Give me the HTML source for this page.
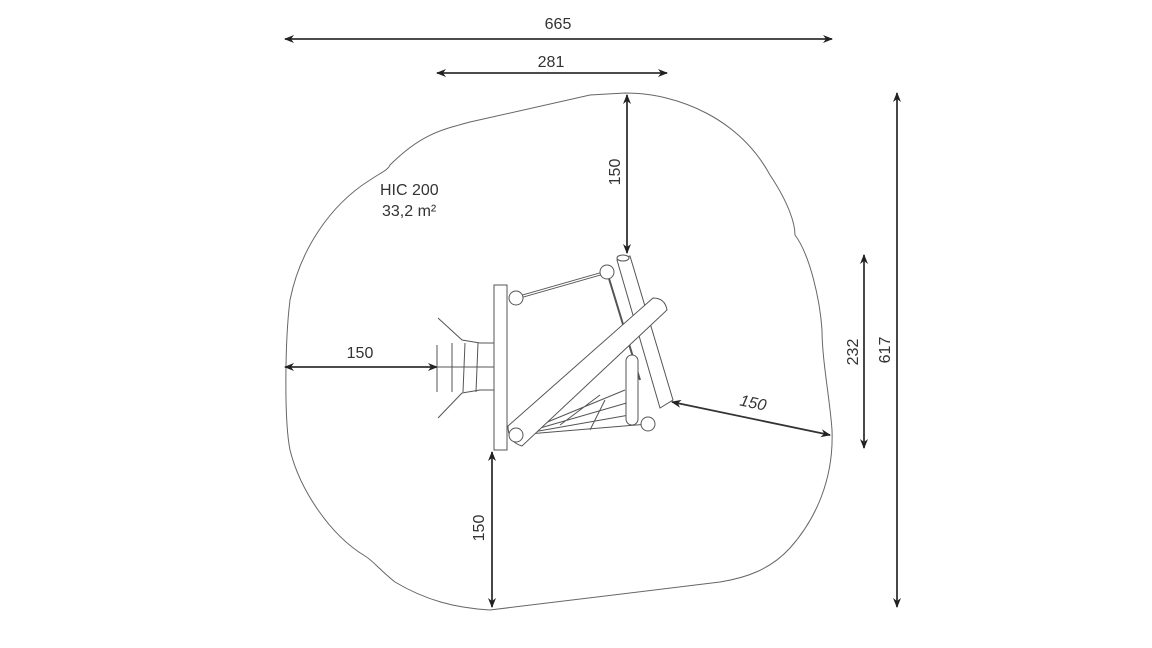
<!DOCTYPE html>
<html><head><meta charset="utf-8"><style>
html,body{margin:0;padding:0;background:#fff;}
svg{display:block;}
text{font-family:"Liberation Sans","DejaVu Sans",sans-serif;fill:#333;font-size:16px;}
</style></head><body>
<svg width="1152" height="648" viewBox="0 0 1152 648" xmlns="http://www.w3.org/2000/svg">
<defs>
<marker id="a" viewBox="0 0 10 10" refX="9" refY="5" markerWidth="11" markerHeight="10" orient="auto-start-reverse" markerUnits="userSpaceOnUse">
<path d="M0,1 L10,5 L0,9 L3,5 Z" fill="#222"/></marker>
</defs>
<path d="M625,93 C680,93 740,120 770,175 C790,205 795,225 795,235 C810,255 820,300 822,330 C822,360 830,400 832,430 C834,480 815,520 790,548 C770,570 745,578 720,582 L490,610 C455,608 425,600 395,582 C380,570 372,560 365,556 C330,535 300,490 290,450 C284,420 285,340 290,300 C300,250 330,205 370,180 C382,172 388,170 390,165 C420,135 440,130 470,122 L590,95 Z" fill="none" stroke="#666" stroke-width="1"/>
<g stroke="#333" stroke-width="1.8" fill="none">
<line x1="285" y1="39" x2="832" y2="39" marker-start="url(#a)" marker-end="url(#a)"/>
<line x1="437" y1="73" x2="667" y2="73" marker-start="url(#a)" marker-end="url(#a)"/>
<line x1="627" y1="95" x2="627" y2="253" marker-start="url(#a)" marker-end="url(#a)"/>
<line x1="897" y1="93" x2="897" y2="607" marker-start="url(#a)" marker-end="url(#a)"/>
<line x1="864" y1="255" x2="864" y2="448" marker-start="url(#a)" marker-end="url(#a)"/>
<line x1="285" y1="367" x2="437" y2="367" marker-start="url(#a)" marker-end="url(#a)"/>
<line x1="492" y1="452" x2="492" y2="607" marker-start="url(#a)" marker-end="url(#a)"/>
<line x1="672" y1="402" x2="830" y2="435" marker-start="url(#a)" marker-end="url(#a)"/>
</g>
<g stroke="#555" stroke-width="1" fill="#fff">
<path d="M438,318 L462,340 L480,343 L494,343 L494,390 L480,390 L462,393 L438,418" fill="none"/>
<path d="M437,345 L437,392 M452,343 L452,392 M465,343 L463,392 M478,343 L476,392 M437,367 L494,367" fill="none"/>
<line x1="516" y1="298" x2="607" y2="272" stroke-width="3"/>
<line x1="516" y1="298" x2="607" y2="272" stroke="#fff" stroke-width="1.2"/>
<line x1="607" y1="272" x2="640" y2="380" stroke-width="2"/>
<rect x="494" y="285" width="13" height="165"/>
<circle cx="516" cy="298" r="7"/>
<circle cx="607" cy="272" r="7"/>
<path d="M617,260 L630,256 L673,400 L660,408 Z"/>
<ellipse cx="623" cy="258" rx="6" ry="3"/>
<path d="M516,435 L625,390 M516,435 L630,402 M516,435 L635,414 M516,435 L648,424 M560,425 L600,395 M590,430 L605,400" fill="none"/>
<rect x="626" y="355" width="12" height="70" rx="6"/>
<circle cx="648" cy="424" r="7"/>
<path d="M508,426 L653,298 Q665,298 667,310 L522,446 Q508,442 508,426 Z"/>
<circle cx="516" cy="435" r="7"/>
</g>
<text x="558" y="29" text-anchor="middle">665</text>
<text x="551" y="67" text-anchor="middle">281</text>
<text x="360" y="358" text-anchor="middle">150</text>
<text x="380" y="195">HIC 200</text>
<text x="382" y="216">33,2 m²</text>
<text transform="translate(620,172) rotate(-90)" text-anchor="middle">150</text>
<text transform="translate(484,528) rotate(-90)" text-anchor="middle">150</text>
<text transform="translate(858,352) rotate(-90)" text-anchor="middle">232</text>
<text transform="translate(890,350) rotate(-90)" text-anchor="middle">617</text>
<text transform="translate(752,408) rotate(12)" text-anchor="middle" font-style="italic">150</text>
</svg>
</body></html>
